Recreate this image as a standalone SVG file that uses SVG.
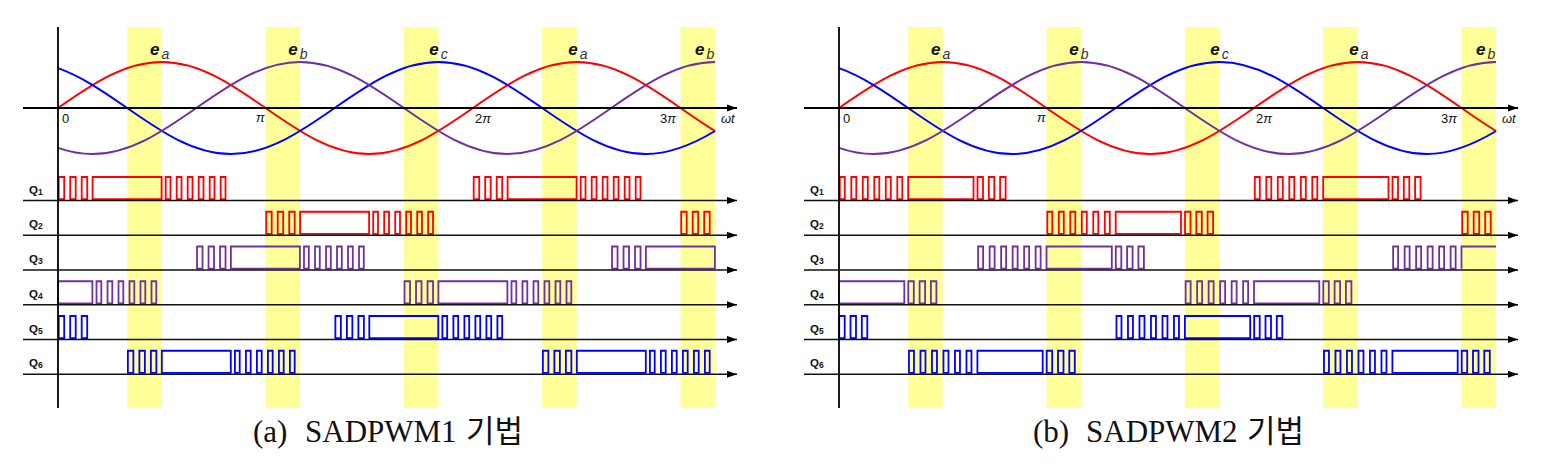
<svg xmlns="http://www.w3.org/2000/svg" width="1541" height="471" viewBox="0 0 1541 471">
<style>
.band{fill:#ffff99}
.ax{stroke:#000;stroke-width:1.8;fill:none}
.row{stroke:#111;stroke-width:1.6;fill:none}
.w{fill:none;stroke-width:2}
.sig{fill:none;stroke-width:1.8;stroke-linejoin:miter}
.red{stroke:#ff0000}
.pur{stroke:#7030a0}
.blu{stroke:#0000ff}
.e{font-family:"Liberation Sans",Arial,sans-serif;font-size:17px;font-weight:bold;font-style:italic;fill:#111}
.sub{font-weight:normal;font-size:14px;fill:#333}
.tk{font-family:"Liberation Sans",Arial,sans-serif;font-size:13px;fill:#111}
.it{font-style:italic}
.q{font-family:"Liberation Sans",Arial,sans-serif;font-size:11.5px;font-weight:bold;fill:#111}
.qs{font-size:8.5px}
.cap{font-family:"Liberation Serif","Noto Sans CJK KR",serif;font-size:31px;fill:#111}
</style>
<defs>
<marker id="ar" markerUnits="userSpaceOnUse" markerWidth="10" markerHeight="8" refX="10" refY="4" orient="auto"><path d="M0,0.4L10,4L0,7.6Z" fill="#000"/></marker>
<path id="p3L" d="M0.7,-1.3V-23.5H6.2V-1.3ZM12.2,-1.3V-23.5H17.7V-1.3ZM23.7,-1.3V-23.5H29.2V-1.3Z"/>
<path id="p6L" d="M4.1,-1.3V-23.5H8.9V-1.3ZM15.1,-1.3V-23.5H19.9V-1.3ZM26.1,-1.3V-23.5H30.9V-1.3ZM37.1,-1.3V-23.5H41.9V-1.3ZM48.1,-1.3V-23.5H52.9V-1.3ZM59.1,-1.3V-23.5H63.9V-1.3Z"/>
<path id="p6R" d="M0.8,-1.3V-23.5H5.8V-1.3ZM12.3,-1.3V-23.5H17.3V-1.3ZM23.8,-1.3V-23.5H28.8V-1.3ZM35.3,-1.3V-23.5H40.3V-1.3ZM46.8,-1.3V-23.5H51.8V-1.3ZM58.3,-1.3V-23.5H63.3V-1.3Z"/>
<path id="p3R" d="M4,-1.3V-23.5H9.5V-1.3ZM15.3,-1.3V-23.5H20.8V-1.3ZM26.6,-1.3V-23.5H32.1V-1.3Z"/>
<g id="bands">
<rect class="band" x="127.17" y="27" width="34.58" height="381"/>
<rect class="band" x="265.5" y="27" width="34.58" height="381"/>
<rect class="band" x="403.83" y="27" width="34.58" height="381"/>
<rect class="band" x="542.17" y="27" width="34.58" height="381"/>
<rect class="band" x="680.5" y="27" width="34.58" height="381"/>
</g>
<g id="axes">
<path class="ax" d="M58,27V408"/>
<path class="ax" d="M23,108H737" marker-end="url(#ar)"/>
<path class="row" d="M23,200.5H737" marker-end="url(#ar)"/>
<path class="row" d="M23,235.25H737" marker-end="url(#ar)"/>
<path class="row" d="M23,270H737" marker-end="url(#ar)"/>
<path class="row" d="M23,304.75H737" marker-end="url(#ar)"/>
<path class="row" d="M23,339.5H737" marker-end="url(#ar)"/>
<path class="row" d="M23,374.25H737" marker-end="url(#ar)"/>
</g>
<g id="waves">
<path class="w red" d="M58,108C91.84,84.43 124.2,62 161.75,62C199.3,62 231.66,84.43 265.5,108C299.34,131.57 331.7,154 369.25,154C406.8,154 439.16,131.57 473,108C506.84,84.43 539.2,62 576.75,62C614.3,62 646.66,84.43 680.5,108C692.03,116.03 703.55,124.05 715.08,131"/>
<path class="w blu" d="M58,68.16C81.06,76.19 104.11,91.94 127.17,108C161.01,131.57 193.37,154 230.92,154C268.47,154 300.83,131.57 334.67,108C368.51,84.43 400.87,62 438.42,62C475.97,62 508.33,84.43 542.17,108C576.01,131.57 608.37,154 645.92,154C668.98,154 692.02,144.91 715.08,131"/>
<path class="w pur" d="M58,147.84C69.53,151.85 81.05,154 92.58,154C130.13,154 162.49,131.57 196.33,108C230.17,84.43 262.53,62 300.08,62C337.63,62 369.99,84.43 403.83,108C437.67,131.57 470.03,154 507.58,154C545.13,154 577.49,131.57 611.33,108C645.17,84.43 677.53,62 715.08,62"/>
</g>
</defs>

<g id="panel-a">
<use href="#bands"/>
<g id="a-waves"><use href="#waves"/></g>
<g id="a-pulses">
<g id="a-Q1" class="sig red" transform="translate(0,200.5)">
<use href="#p3L" x="58"/><path d="M92.6,-1.3V-23.5H161.6V-1.3Z"/><use href="#p6L" x="161.6"/>
<use href="#p3L" x="473"/><path d="M507.6,-1.3V-23.5H576.6V-1.3Z"/><use href="#p6L" x="576.6"/>
</g>
<g id="a-Q2" class="sig red" transform="translate(0,235.25)">
<use href="#p3L" x="265.5"/><path d="M300.1,-1.3V-23.5H369.1V-1.3Z"/><use href="#p6L" x="369.1"/>
<use href="#p3L" x="680.5"/>
</g>
<g id="a-Q3" class="sig pur" transform="translate(0,270)">
<use href="#p3L" x="196.33"/><path d="M230.9,-1.3V-23.5H299.9V-1.3Z"/><use href="#p6L" x="299.9"/>
<use href="#p3L" x="611.33"/><path d="M645.9,-1.3V-23.5H714.9V-1.3Z"/>
</g>
<g id="a-Q4" class="sig pur" transform="translate(0,304.75)">
<path d="M58,-1.3V-23.5H92.4V-1.3Z"/><use href="#p6L" x="92.4"/>
<use href="#p3L" x="403.83"/><path d="M438.4,-1.3V-23.5H507.4V-1.3Z"/><use href="#p6L" x="507.4"/>
</g>
<g id="a-Q5" class="sig blu" transform="translate(0,339.5)">
<use href="#p3L" x="58"/>
<use href="#p3L" x="334.67"/><path d="M369.3,-1.3V-23.5H438.3V-1.3Z"/><use href="#p6L" x="438.3"/>
</g>
<g id="a-Q6" class="sig blu" transform="translate(0,374.25)">
<use href="#p3L" x="127.17"/><path d="M161.8,-1.3V-23.5H230.8V-1.3Z"/><use href="#p6L" x="230.8"/>
<use href="#p3L" x="542.17"/><path d="M576.8,-1.3V-23.5H645.8V-1.3Z"/><use href="#p6L" x="645.8"/>
</g>
</g>
<g id="a-connectors"><use href="#axes"/></g>
<g id="a-labels">
<text class="e" x="150" y="55">e<tspan class="sub" dx="2" dy="4">a</tspan></text>
<text class="e" x="288.3" y="55">e<tspan class="sub" dx="2" dy="4">b</tspan></text>
<text class="e" x="429.3" y="55">e<tspan class="sub" dx="2" dy="4">c</tspan></text>
<text class="e" x="568.3" y="55">e<tspan class="sub" dx="2" dy="4">a</tspan></text>
<text class="e" x="695" y="55">e<tspan class="sub" dx="2" dy="4">b</tspan></text>
<text class="tk" x="62" y="123">0</text>
<text class="tk it" x="256" y="122">π</text>
<text class="tk" x="475" y="123">2<tspan class="it">π</tspan></text>
<text class="tk" x="660" y="123">3<tspan class="it">π</tspan></text>
<text class="tk it" x="721" y="123">ωt</text>
<text class="q" x="29" y="194">Q<tspan class="qs" dy="1">1</tspan></text>
<text class="q" x="29" y="228.25">Q<tspan class="qs" dy="1">2</tspan></text>
<text class="q" x="29" y="263">Q<tspan class="qs" dy="1">3</tspan></text>
<text class="q" x="29" y="297.75">Q<tspan class="qs" dy="1">4</tspan></text>
<text class="q" x="29" y="332.5">Q<tspan class="qs" dy="1">5</tspan></text>
<text class="q" x="29" y="367.25">Q<tspan class="qs" dy="1">6</tspan></text>
<text class="cap" y="442"><tspan x="253">(a) </tspan><tspan x="305">SADPWM1 </tspan><tspan x="466">기법</tspan></text>
</g>
</g>

<g id="panel-b" transform="translate(781,0)">
<use href="#bands"/>
<g id="b-waves"><use href="#waves"/></g>
<g id="b-pulses">
<g id="b-Q1" class="sig red" transform="translate(0,200.5)">
<use href="#p6R" x="58"/><path d="M127.2,-1.3V-23.5H192.5V-1.3Z"/><use href="#p3R" x="192.5"/>
<use href="#p6R" x="473"/><path d="M542.2,-1.3V-23.5H607.5V-1.3Z"/><use href="#p3R" x="607.5"/>
</g>
<g id="b-Q2" class="sig red" transform="translate(0,235.25)">
<use href="#p6R" x="265.5"/><path d="M334.7,-1.3V-23.5H400V-1.3Z"/><use href="#p3R" x="400"/>
<use href="#p3L" x="680.5"/>
</g>
<g id="b-Q3" class="sig pur" transform="translate(0,270)">
<use href="#p6R" x="196.33"/><path d="M265.5,-1.3V-23.5H330.8V-1.3Z"/><use href="#p3R" x="330.8"/>
<use href="#p6R" x="611.33"/><path d="M680.5,-1.3V-23.5H715.1"/>
</g>
<g id="b-Q4" class="sig pur" transform="translate(0,304.75)">
<path d="M58,-1.3V-23.5H123.3V-1.3Z"/><use href="#p3R" x="123.3"/>
<use href="#p6R" x="403.83"/><path d="M473,-1.3V-23.5H538.3V-1.3Z"/><use href="#p3R" x="538.3"/>
</g>
<g id="b-Q5" class="sig blu" transform="translate(0,339.5)">
<use href="#p3R" x="54.2"/>
<use href="#p6R" x="334.67"/><path d="M403.9,-1.3V-23.5H469.2V-1.3Z"/><use href="#p3R" x="469.2"/>
</g>
<g id="b-Q6" class="sig blu" transform="translate(0,374.25)">
<use href="#p6R" x="127.17"/><path d="M196.4,-1.3V-23.5H261.7V-1.3Z"/><use href="#p3R" x="261.7"/>
<use href="#p6R" x="542.17"/><path d="M611.4,-1.3V-23.5H676.7V-1.3Z"/><use href="#p3R" x="676.7"/>
</g>
</g>
<g id="b-connectors"><use href="#axes"/></g>
<g id="b-labels">
<text class="e" x="150" y="55">e<tspan class="sub" dx="2" dy="4">a</tspan></text>
<text class="e" x="288.3" y="55">e<tspan class="sub" dx="2" dy="4">b</tspan></text>
<text class="e" x="429.3" y="55">e<tspan class="sub" dx="2" dy="4">c</tspan></text>
<text class="e" x="568.3" y="55">e<tspan class="sub" dx="2" dy="4">a</tspan></text>
<text class="e" x="695" y="55">e<tspan class="sub" dx="2" dy="4">b</tspan></text>
<text class="tk" x="62" y="123">0</text>
<text class="tk it" x="256" y="122">π</text>
<text class="tk" x="475" y="123">2<tspan class="it">π</tspan></text>
<text class="tk" x="660" y="123">3<tspan class="it">π</tspan></text>
<text class="tk it" x="721" y="123">ωt</text>
<text class="q" x="29" y="194">Q<tspan class="qs" dy="1">1</tspan></text>
<text class="q" x="29" y="228.25">Q<tspan class="qs" dy="1">2</tspan></text>
<text class="q" x="29" y="263">Q<tspan class="qs" dy="1">3</tspan></text>
<text class="q" x="29" y="297.75">Q<tspan class="qs" dy="1">4</tspan></text>
<text class="q" x="29" y="332.5">Q<tspan class="qs" dy="1">5</tspan></text>
<text class="q" x="29" y="367.25">Q<tspan class="qs" dy="1">6</tspan></text>
<text class="cap" y="442"><tspan x="252">(b) </tspan><tspan x="305">SADPWM2 </tspan><tspan x="466">기법</tspan></text>
</g>
</g>
</svg>
